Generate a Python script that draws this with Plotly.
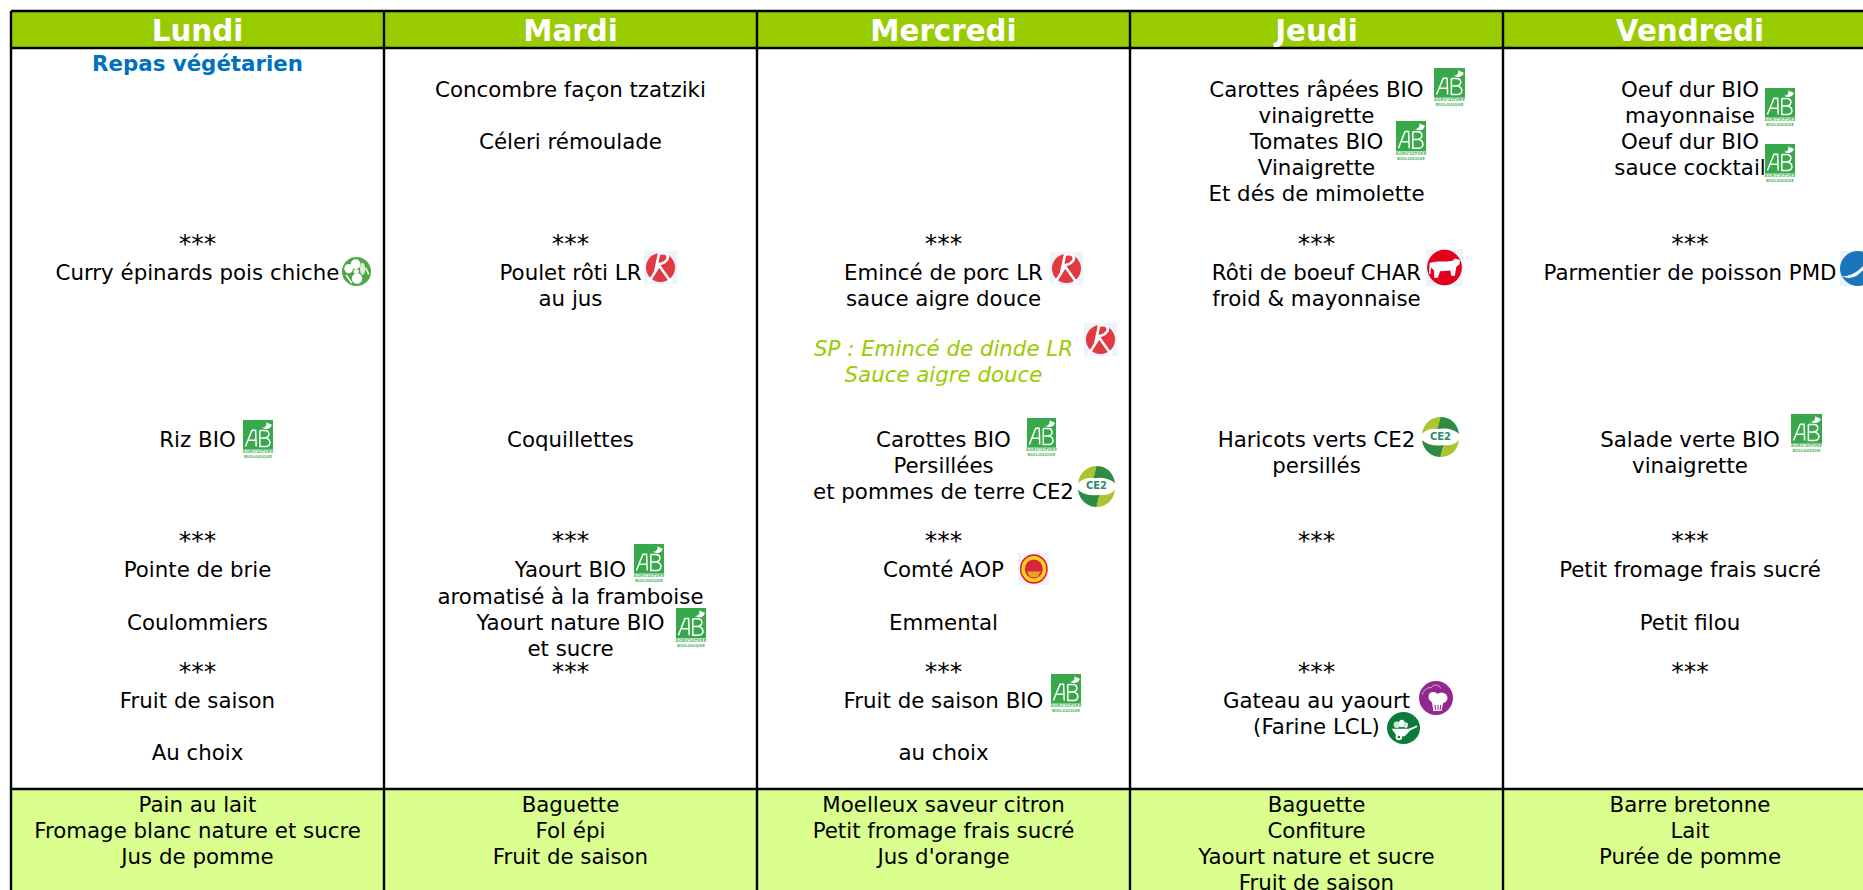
import plotly.graph_objects as go

# ---------- content ----------
days = ["Lundi", "Mardi", "Mercredi", "Jeudi", "Vendredi"]

lundi = ["***", "Curry épinards pois chiche", "Riz BIO", "***", "Pointe de brie", "Coulommiers", "***", "Fruit de saison", "Au choix"]
mardi = ["Concombre façon tzatziki", "Céleri rémoulade", "***", "Poulet rôti LR", "au jus", "Coquillettes", "***", "Yaourt BIO", "aromatisé à la framboise", "Yaourt nature BIO", "et sucre", "***"]
mercredi = ["***", "Emincé de porc LR", "sauce aigre douce", "Carottes BIO", "Persillées", "et pommes de terre CE2", "***", "Comté AOP", "Emmental", "***", "Fruit de saison BIO", "au choix"]
jeudi = ["Carottes râpées BIO", "vinaigrette", "Tomates BIO", "Vinaigrette", "Et dés de mimolette", "***", "Rôti de boeuf CHAR", "froid & mayonnaise", "Haricots verts CE2", "persillés", "***", "***", "Gateau au yaourt", "(Farine LCL)"]
vendredi = ["Oeuf dur BIO", "mayonnaise", "Oeuf dur BIO", "sauce cocktail", "***", "Parmentier de poisson PMD", "Salade verte BIO", "vinaigrette", "***", "Petit fromage frais sucré", "Petit filou", "***"]
menus = [lundi, mardi, mercredi, jeudi, vendredi]

vegetarian_note = ["Repas végétarien"]
pork_substitute = ["SP : Emincé de dinde LR", "Sauce aigre douce"]

snacks = [
    ["Pain au lait", "Fromage blanc nature et sucre", "Jus de pomme"],
    ["Baguette", "Fol épi", "Fruit de saison"],
    ["Moelleux saveur citron", "Petit fromage frais sucré", "Jus d'orange"],
    ["Baguette", "Confiture", "Yaourt nature et sucre", "Fruit de saison"],
    ["Barre bretonne", "Lait", "Purée de pomme"],
]

# ---------- layout (page pixels) ----------
W, H = 1863, 890
COL_EDGES = [11, 384, 757, 1130, 1503, 1876]
COL_CENTERS = [197.5, 570.5, 943.5, 1316.5, 1690]
Y_TOP, Y_HEAD, Y_SNACK = 11, 48, 789
HEAD_Y = 33.5
menu_rows = [
    [245, 271, 438, 542, 568, 621, 673, 699, 751],
    [88, 140, 245, 271, 297, 438, 542, 568, 595, 621, 647, 673],
    [245, 271, 297, 438, 464, 490, 542, 568, 621, 673, 699, 751],
    [88, 114, 140, 166, 192, 245, 271, 297, 438, 464, 542, 673, 699, 725],
    [88, 114, 140, 166, 245, 271, 438, 464, 542, 568, 621, 673],
]
note_row = [66]
sub_rows = [347, 373]
snack_rows = [803, 829, 855, 881]

C_HEAD, C_SNACK, C_SUB, C_NOTE = "#99CC00", "#DAFF8E", "#99CC00", "#0070C0"
FONT = "DejaVu Sans, Verdana, sans-serif"
FS = 21.33
FS_STARS = 25
SHIFT = 3.5
SHIFT_STARS = 0.8

# icon boxes x0, y0, x1, y1
AB_BOXES = [(243, 420, 273, 459), (634, 544, 664, 583), (676, 608, 706, 648), (1027, 418, 1056, 457),
            (1051, 674, 1081, 713), (1434, 68, 1465, 107), (1396, 121, 1426, 161), (1765, 88, 1795, 127),
            (1765, 144, 1795, 183), (1791, 414, 1822, 453)]
LR_BOXES = [(644, 251, 677, 284), (1050, 252, 1083, 285), (1084, 323, 1117, 356)]
CE2_BOXES = [(1078, 466, 1115, 507), (1422, 417, 1459, 457)]
AOP_BOX = (1018, 553, 1049, 585)
CHAR_BOX = (1426, 249, 1463, 286)
PMD_BOX = (1840, 251, 1876, 286)
VEG_BOX = (342, 257, 371, 286)
CHEF_BOX = (1419, 681, 1453, 715)
LCL_BOX = (1387, 712, 1420, 744)

shapes = []


def rect(x0, y0, x1, y1, fill, line=None):
    shapes.append(dict(type="rect", xref="x", yref="y", x0=x0, y0=y0, x1=x1, y1=y1, fillcolor=fill,
                       line=dict(width=0) if line is None else line, layer="below"))


def seg(x0, y0, x1, y1):
    shapes.append(dict(type="line", xref="x", yref="y", x0=x0, y0=y0, x1=x1, y1=y1,
                       line=dict(color="#000000", width=2.4), layer="below"))


def disc(box, fx0, fy0, fx1, fy1, fill):
    x0, y0, x1, y1 = box
    w, h = x1 - x0, y1 - y0
    shapes.append(dict(type="circle", xref="x", yref="y", x0=x0 + fx0 * w, y0=y0 + fy0 * h,
                       x1=x0 + fx1 * w, y1=y0 + fy1 * h, fillcolor=fill, line=dict(width=0), layer="below"))


def path(box, d, fill=None, stroke=None, width=1.0):
    x0, y0, x1, y1 = box
    w, h = x1 - x0, y1 - y0
    out, isx = [], True
    for t in d.split():
        if t.isalpha():
            out.append(t)
            isx = True
        else:
            v = float(t)
            out.append(f"{x0 + v * w:.2f}" if isx else f"{y0 + v * h:.2f}")
            isx = not isx
    shapes.append(dict(type="path", xref="x", yref="y", path=" ".join(out),
                       fillcolor=fill if fill else "rgba(0,0,0,0)",
                       line=dict(color=stroke, width=width) if stroke else dict(width=0), layer="below"))


# backgrounds and grid
rect(COL_EDGES[0], Y_TOP, W + 20, Y_HEAD, C_HEAD)
rect(COL_EDGES[0], Y_SNACK, W + 20, H + 20, C_SNACK)
seg(COL_EDGES[0], Y_TOP, W + 20, Y_TOP)
seg(COL_EDGES[0], Y_HEAD, W + 20, Y_HEAD)
seg(COL_EDGES[0], Y_SNACK, W + 20, Y_SNACK)
for xe in COL_EDGES[:-1]:
    seg(xe, Y_TOP, xe, H + 20)

small_x, small_y, small_t = [], [], []

# Agriculture Biologique logos
for b in AB_BOXES:
    x0, y0, x1, y1 = b
    rect(x0, y0, x1, y0 + 0.76 * (y1 - y0), "#37A94A")
    path(b, "M .08 .68 L .3 .26 L .42 .26 L .44 .68 M .16 .52 L .43 .52", stroke="#FFFFFF", width=1.5)
    path(b, "M .56 .27 L .56 .68 L .76 .68 C .95 .68 .95 .47 .72 .46 L .56 .46 M .72 .46 C .92 .44 .9 .27 .72 .27 L .56 .27",
         stroke="#FFFFFF", width=1.5)
    path(b, "M .62 .2 C .72 .2 .8 .16 .78 .05 C .84 .1 .96 .1 .96 .13 C .92 .22 .84 .24 .74 .23 Z", fill="#FFFFFF")
    small_x += [(x0 + x1) / 2, (x0 + x1) / 2]
    small_y += [y0 + 0.82 * (y1 - y0), y0 + 0.94 * (y1 - y0)]
    small_t += ["AGRICULTURE", "BIOLOGIQUE"]

# Label Rouge
for b in LR_BOXES:
    rect(*b, "#EEF2FA")
    disc(b, .06, .06, .94, .94, "#E2383F")
    path(b, "M .46 .06 L .34 .62 M .42 .1 C .7 .0 .82 .18 .62 .34 C .56 .38 .48 .4 .4 .4 M .12 .98 L .46 .44 L .84 .98",
         stroke="#FFFFFF", width=2.6)

# CE2
for b in CE2_BOXES:
    path(b, "M .0 .42 C .04 .14 .28 .0 .5 .0 C .48 .1 .44 .2 .42 .3 C .26 .27 .1 .32 .0 .42 Z", fill="#A9C52F")
    path(b, "M .5 .0 C .74 .0 .96 .14 1 .42 C .86 .3 .62 .26 .42 .3 C .44 .2 .48 .1 .5 .0 Z", fill="#2F8A45")
    path(b, "M .0 .58 C .04 .86 .28 1 .5 1 C .52 .9 .56 .8 .58 .7 C .38 .74 .14 .7 .0 .58 Z", fill="#2F8A45")
    path(b, "M .5 1 C .74 1 .96 .86 1 .58 C .9 .68 .74 .73 .58 .7 C .56 .8 .52 .9 .5 1 Z", fill="#A9C52F")

# AOP
rect(*AOP_BOX, "#EEF2FA")
disc(AOP_BOX, .06, .04, .96, .96, "#E8202E")
disc(AOP_BOX, .11, .09, .91, .91, "#FFD21F")
disc(AOP_BOX, .22, .2, .8, .8, "#D9263A")
path(AOP_BOX, "M .28 .58 L .74 .58 L .62 .76 L .4 .76 Z", fill="#E9A02A")

# Charolais
rect(*CHAR_BOX, "#EEF2FA")
disc(CHAR_BOX, .03, .02, .97, .98, "#E2001A")
path(CHAR_BOX, "M .1 .38 C .3 .3 .55 .36 .72 .32 L .78 .26 L .92 .3 L .9 .42 L .82 .48 L .78 .72 L .68 .72 L .66 .58 "
     "L .38 .6 L .32 .78 L .22 .78 L .22 .58 L .14 .5 L .12 .68 L .08 .66 Z", fill="#FFFFFF")

# Pêche durable
rect(*PMD_BOX, "#EEF2FA")
disc(PMD_BOX, .0, .0, 1, 1, "#1B75BB")
path(PMD_BOX, "M .05 .72 C .3 .72 .5 .6 .66 .4 C .72 .5 .82 .56 .95 .56 C .8 .62 .7 .62 .62 .56 C .5 .72 .3 .84 .05 .72 Z", fill="#FFFFFF")

# Végétarien
disc(VEG_BOX, 0, 0, 1, 1, "#4FA748")
disc(VEG_BOX, .3, .08, .64, .42, "#FFFFFF")
disc(VEG_BOX, .08, .24, .38, .56, "#FFFFFF")
disc(VEG_BOX, .34, .56, .7, .92, "#FFFFFF")
disc(VEG_BOX, .62, .2, .8, .62, "#DCEED8")
disc(VEG_BOX, .4, .42, .58, .58, "#FFFFFF")
path(VEG_BOX, "M .14 .62 L .34 .9 M .82 .38 L .92 .6", stroke="#FFFFFF", width=1.6)

# Fait maison
disc(CHEF_BOX, 0, 0, 1, 1, "#93278F")
disc(CHEF_BOX, .28, .32, .56, .62, "#FFFFFF")
disc(CHEF_BOX, .48, .34, .84, .66, "#FFFFFF")
disc(CHEF_BOX, .36, .46, .7, .72, "#FFFFFF")
path(CHEF_BOX, "M .38 .6 L .72 .6 L .66 .88 L .42 .88 Z", fill="#FFFFFF")
path(CHEF_BOX, "M .47 .7 L .49 .86 M .56 .7 L .56 .86 M .64 .7 L .62 .86", stroke="#93278F", width=1)
path(CHEF_BOX, "M .1 .4 C .14 .24 .26 .18 .36 .2 C .42 .08 .6 .1 .64 .22", stroke="#E8C9E6", width=0.8)

# Local
disc(LCL_BOX, 0, 0, 1, 1, "#0B7A3B")
path(LCL_BOX, "M .14 .52 L .66 .52 L .9 .42 L .92 .47 L .7 .58 L .54 .76 L .3 .76 Z", fill="#FFFFFF")
disc(LCL_BOX, .26, .68, .46, .88, "#FFFFFF")
disc(LCL_BOX, .32, .74, .4, .82, "#0B7A3B")
disc(LCL_BOX, .2, .3, .4, .5, "#CFE8D2")
disc(LCL_BOX, .36, .24, .54, .48, "#FFFFFF")
disc(LCL_BOX, .5, .32, .64, .5, "#CFE8D2")

# ---------- traces ----------
fig = go.Figure()


def add_text(xs, ys, texts, size=FS, color="#000000", family=FONT, weight=None, style=None):
    fig.add_trace(go.Scatter(x=xs, y=ys, text=texts, mode="text", textposition="middle center", hoverinfo="skip",
                             showlegend=False,
                             textfont=dict(size=size, color=color, family=family,
                                           weight=weight if weight else "normal",
                                           style=style if style else "normal")))


add_text(COL_CENTERS, [HEAD_Y] * 5, days, size=29.33, color="#FFFFFF", weight="bold")
for cx, items, rows in zip(COL_CENTERS, menus, menu_rows):
    ys = [r + (SHIFT_STARS if t == "***" else SHIFT) for t, r in zip(items, rows)]
    sizes = [FS_STARS if t == "***" else FS for t in items]
    add_text([cx] * len(items), ys, items, size=sizes)
for cx, items in zip(COL_CENTERS, snacks):
    add_text([cx] * len(items), [r + SHIFT for r in snack_rows[:len(items)]], items)
add_text([COL_CENTERS[0]], note_row, vegetarian_note, size=21.33, color=C_NOTE, weight="bold")
add_text([COL_CENTERS[2]] * 2, [r + SHIFT for r in sub_rows], pork_substitute, color=C_SUB, style="italic")
add_text(small_x, small_y, small_t, size=4, color="#56B868", weight="bold")
add_text([(b[0] + b[2]) / 2 for b in CE2_BOXES], [(b[1] + b[3]) / 2 for b in CE2_BOXES], ["CE2"] * 2,
         size=10, color="#2F8A6A", weight="bold")

fig.update_layout(
    width=W, height=H, margin=dict(l=0, r=0, t=0, b=0), autosize=False,
    paper_bgcolor="#FFFFFF", plot_bgcolor="#FFFFFF",
    xaxis=dict(range=[0, W], visible=False, fixedrange=True),
    yaxis=dict(range=[H, 0], visible=False, fixedrange=True),
    shapes=shapes, showlegend=False,
)
fig.write_html("out.html", config=dict(displayModeBar=False),
               post_script="document.body.style.margin='0';document.body.style.overflow='hidden';")
